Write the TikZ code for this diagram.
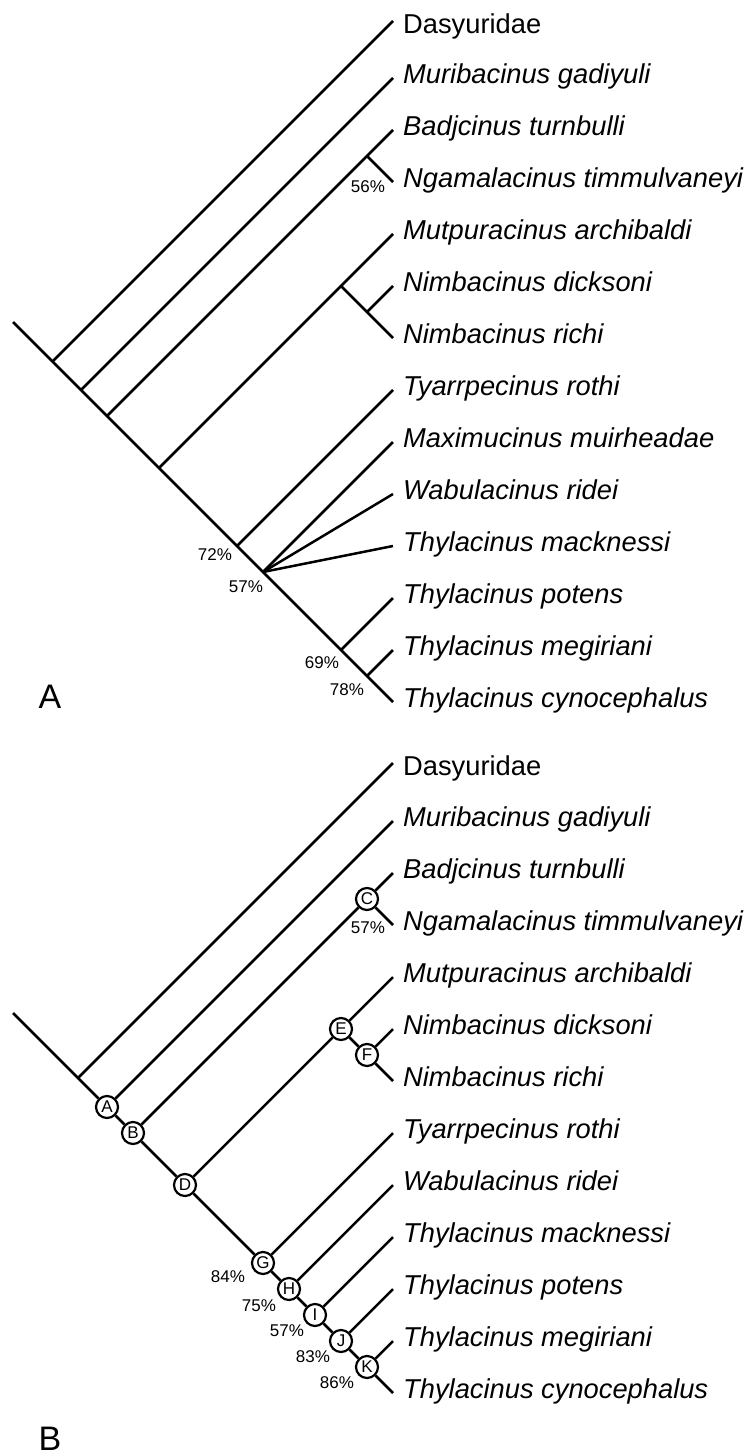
\documentclass[tikz,border=0pt]{standalone}
\usepackage{fontspec}
\setmainfont{Liberation Sans}
\usepackage{tikz}
\tikzstyle{Node}=[circle,draw=black,fill=white,line width=2.2pt,inner sep=0pt,
minimum size=22pt,font=\fontsize{17}{17}\selectfont]
\tikzstyle{Edge}=[draw=black,line width=2.5pt]
\tikzstyle{Leaf}=[anchor=base west,inner sep=0pt,
font=\fontsize{27.3}{29}\selectfont\itshape]
\tikzstyle{Group}=[Leaf,font=\fontsize{27.3}{29}\selectfont]
\tikzstyle{Supp}=[inner sep=0pt,font=\fontsize{17}{18}\selectfont]
\tikzstyle{Panel}=[inner sep=0pt,font=\fontsize{34}{36}\selectfont]

\begin{document}
\begin{tikzpicture}[x=1pt,y=-1pt]
    \useasboundingbox (0,0) rectangle (749,1456);
    % tree A
        \coordinate(rA)at(13,322);
        \coordinate(aDas)at(52.5,361.5);
        \coordinate(aMur)at(81,390);
        \coordinate(aBad)at(107,416);
        \coordinate(aBadN)at(367,156);
        \coordinate(aMut)at(159,468);
        \coordinate(aMutN)at(341,286);
        \coordinate(aNim)at(367,312);
        \coordinate(aTya)at(237,546);
        \coordinate(aPol)at(263,572);
        \coordinate(aPot)at(341,650);
        \coordinate(aMeg)at(367,676);
        \coordinate(tADas)at(393,21);
        \coordinate(tAMur)at(393,78);
        \coordinate(tABad)at(393,130);
        \coordinate(tANga)at(393,182);
        \coordinate(tAMut)at(393,234);
        \coordinate(tANid)at(393,286);
        \coordinate(tANir)at(393,338);
        \coordinate(tATya)at(393,390);
        \coordinate(tAMax)at(393,442);
        \coordinate(tAWab)at(393,494);
        \coordinate(tAMac)at(393,546);
        \coordinate(tAPot)at(393,598);
        \coordinate(tAMeg)at(393,650);
        \coordinate(tACyn)at(393,702);
        \draw[Edge](rA)--(tACyn);
        \draw[Edge](aDas)--(tADas);
        \draw[Edge](aMur)--(tAMur);
        \draw[Edge](aBad)--(tABad);
        \draw[Edge](aBadN)--(tANga);
        \draw[Edge](aMut)--(tAMut);
        \draw[Edge](aMutN)--(tANir);
        \draw[Edge](aNim)--(tANid);
        \draw[Edge](aTya)--(tATya);
        \draw[Edge](aPol)--(tAMax);
        \draw[Edge](aPol)--(tAWab);
        \draw[Edge](aPol)--(tAMac);
        \draw[Edge](aPot)--(tAPot);
        \draw[Edge](aMeg)--(tAMeg);
        \node[Group](lADas)at(403,33){Dasyuridae};
        \node[Leaf](lAMur)at(403,83){Muribacinus gadiyuli};
        \node[Leaf](lABad)at(403,135){Badjcinus turnbulli};
        \node[Leaf](lANga)at(403,187){Ngamalacinus timmulvaneyi};
        \node[Leaf](lAMut)at(403,239){Mutpuracinus archibaldi};
        \node[Leaf](lANid)at(403,291){Nimbacinus dicksoni};
        \node[Leaf](lANir)at(403,343){Nimbacinus richi};
        \node[Leaf](lATya)at(403,395){Tyarrpecinus rothi};
        \node[Leaf](lAMax)at(403,447){Maximucinus muirheadae};
        \node[Leaf](lAWab)at(403,499){Wabulacinus ridei};
        \node[Leaf](lAMac)at(403,551){Thylacinus macknessi};
        \node[Leaf](lAPot)at(403,603){Thylacinus potens};
        \node[Leaf](lAMeg)at(403,655){Thylacinus megiriani};
        \node[Leaf](lACyn)at(403,707){Thylacinus cynocephalus};
        \node[Supp](sABad)at(368,187){56\%};
        \node[Supp](sATya)at(215,555){72\%};
        \node[Supp](sAPol)at(246,587){57\%};
        \node[Supp](sAPot)at(322,663){69\%};
        \node[Supp](sAMeg)at(347,690){78\%};
        \node[Panel](pA)at(50,697){A};
    % tree B
        \coordinate(rB)at(13,1013);
        \coordinate(bDas)at(78,1078);
        \node[Node](A)at(107,1107){A};
        \node[Node](B)at(133,1133){B};
        \node[Node](C)at(367,899){C};
        \node[Node](D)at(185,1185){D};
        \node[Node](E)at(341,1029){E};
        \node[Node](F)at(367,1055){F};
        \node[Node](G)at(263,1263){G};
        \node[Node](H)at(289,1289){H};
        \node[Node](I)at(315,1315){I};
        \node[Node](J)at(341,1341){J};
        \node[Node](K)at(367,1367){K};
        \coordinate(tBDas)at(393,763);
        \coordinate(tBMur)at(393,821);
        \coordinate(tBBad)at(393,873);
        \coordinate(tBNga)at(393,925);
        \coordinate(tBMut)at(393,977);
        \coordinate(tBNid)at(393,1029);
        \coordinate(tBNir)at(393,1081);
        \coordinate(tBTya)at(393,1133);
        \coordinate(tBWab)at(393,1185);
        \coordinate(tBMac)at(393,1237);
        \coordinate(tBPot)at(393,1289);
        \coordinate(tBMeg)at(393,1341);
        \coordinate(tBCyn)at(393,1393);
        \draw[Edge](rB)--(A);
        \draw[Edge](bDas)--(tBDas);
        \draw[Edge](A)--(tBMur);
        \draw[Edge](A)--(B);
        \draw[Edge](B)--(C);
        \draw[Edge](C)--(tBBad);
        \draw[Edge](C)--(tBNga);
        \draw[Edge](B)--(D);
        \draw[Edge](D)--(E);
        \draw[Edge](E)--(tBMut);
        \draw[Edge](E)--(F);
        \draw[Edge](F)--(tBNid);
        \draw[Edge](F)--(tBNir);
        \draw[Edge](D)--(G);
        \draw[Edge](G)--(tBTya);
        \draw[Edge](G)--(H);
        \draw[Edge](H)--(tBWab);
        \draw[Edge](H)--(I);
        \draw[Edge](I)--(tBMac);
        \draw[Edge](I)--(J);
        \draw[Edge](J)--(tBPot);
        \draw[Edge](J)--(K);
        \draw[Edge](K)--(tBMeg);
        \draw[Edge](K)--(tBCyn);
        \node[Group](lBDas)at(403,775){Dasyuridae};
        \node[Leaf](lBMur)at(403,826){Muribacinus gadiyuli};
        \node[Leaf](lBBad)at(403,878){Badjcinus turnbulli};
        \node[Leaf](lBNga)at(403,930){Ngamalacinus timmulvaneyi};
        \node[Leaf](lBMut)at(403,982){Mutpuracinus archibaldi};
        \node[Leaf](lBNid)at(403,1034){Nimbacinus dicksoni};
        \node[Leaf](lBNir)at(403,1086){Nimbacinus richi};
        \node[Leaf](lBTya)at(403,1138){Tyarrpecinus rothi};
        \node[Leaf](lBWab)at(403,1190){Wabulacinus ridei};
        \node[Leaf](lBMac)at(403,1242){Thylacinus macknessi};
        \node[Leaf](lBPot)at(403,1294){Thylacinus potens};
        \node[Leaf](lBMeg)at(403,1346){Thylacinus megiriani};
        \node[Leaf](lBCyn)at(403,1398){Thylacinus cynocephalus};
        \node[Supp](sC)at(368,928){57\%};
        \node[Supp](sG)at(228,1277){84\%};
        \node[Supp](sH)at(259,1306){75\%};
        \node[Supp](sI)at(287,1331){57\%};
        \node[Supp](sJ)at(313,1357){83\%};
        \node[Supp](sK)at(337,1383){86\%};
        \node[Panel](pB)at(50,1439){B};
\end{tikzpicture}
\end{document}
